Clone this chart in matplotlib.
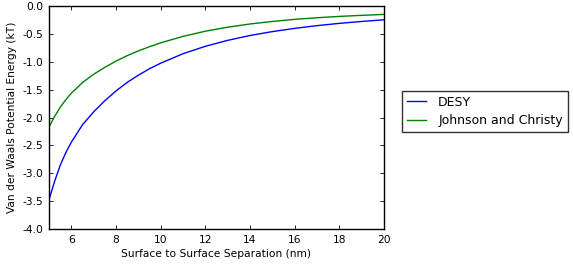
import numpy as np
import matplotlib
matplotlib.use("Agg")
import matplotlib.pyplot as plt

# separation (nm) and energy (kT)
separation = [5.0, 5.25, 5.5, 5.75, 6.0, 6.5, 7.0, 7.5, 8.0, 8.5, 9.0, 9.5, 10.0,
              11.0, 12.0, 13.0, 14.0, 15.0, 16.0, 17.0, 18.0, 19.0, 20.0]
desy = [-3.48, -3.146, -2.86, -2.632, -2.444, -2.13, -1.898, -1.698, -1.523, -1.370,
        -1.241, -1.125, -1.025, -0.855, -0.722, -0.615, -0.528, -0.458, -0.400,
        -0.351, -0.310, -0.276, -0.246]
johnson_christy = [-2.172, -1.981, -1.818, -1.682, -1.564, -1.373, -1.224, -1.099,
                   -0.988, -0.890, -0.805, -0.729, -0.660, -0.544, -0.451, -0.379,
                   -0.321, -0.276, -0.238, -0.209, -0.185, -0.166, -0.149]

plt.rcParams["font.family"] = "DejaVu Sans"

fig = plt.figure(figsize=(5.73, 2.65), dpi=100)
ax = fig.add_axes([0.0855, 0.136, 0.5845, 0.841])

ax.plot(separation, desy, color="b", linewidth=1.0, label="DESY")
ax.plot(separation, johnson_christy, color="g", linewidth=1.0, label="Johnson and Christy")

ax.set_xlim(5, 20)
ax.set_ylim(-4, 0)
ax.set_xticks([6, 8, 10, 12, 14, 16, 18, 20])
ax.set_yticks(np.arange(-4.0, 0.01, 0.5))
ax.yaxis.set_major_formatter(matplotlib.ticker.FormatStrFormatter("%.1f"))

ax.tick_params(direction="in", length=3, width=0.6, top=True, right=True,
               labelsize=7.7, colors="black", pad=4)
for s in ax.spines.values():
    s.set_linewidth(1.0)

ax.set_xlabel("Surface to Surface Separation (nm)", fontsize=7.7, labelpad=3.5)
ax.set_ylabel("Van der Waals Potential Energy (kT)", fontsize=7.7, labelpad=4)

leg = ax.legend(loc="upper left", bbox_to_anchor=(1.054, 0.62), borderaxespad=0,
                fontsize=9, fancybox=False, frameon=True, handlelength=1.5,
                handletextpad=1.0, labelspacing=0.45, borderpad=0.4)
leg.get_frame().set_edgecolor("black")
leg.get_frame().set_linewidth(1.0)

plt.savefig("out.png", dpi=100, facecolor="white")
